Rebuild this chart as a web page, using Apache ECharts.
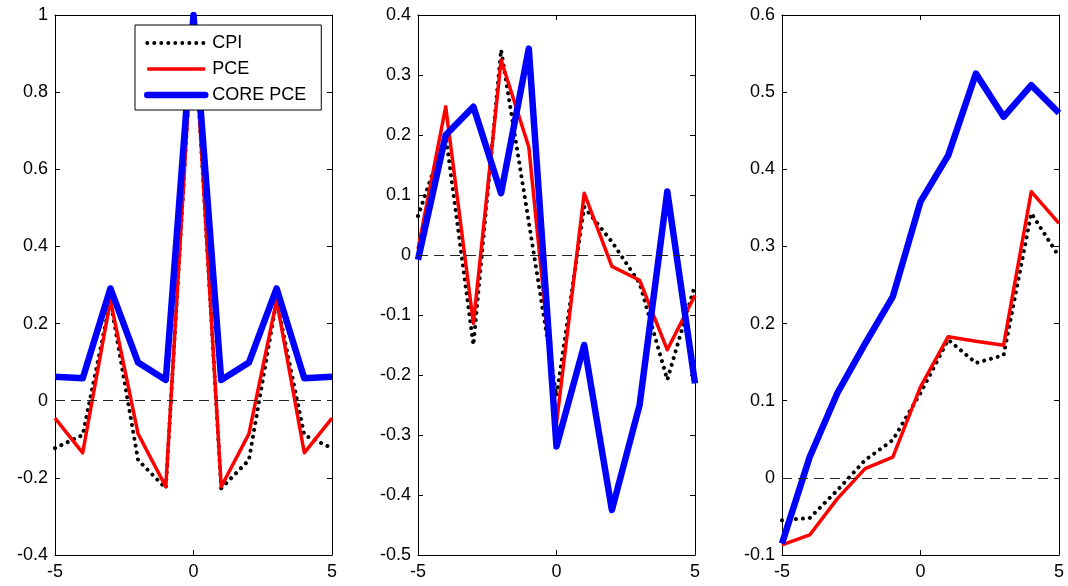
<!DOCTYPE html>
<html>
<head>
<meta charset="utf-8">
<script src="https://cdn.jsdelivr.net/npm/echarts@6/dist/echarts.min.js"></script>
<style>
  html, body { margin: 0; padding: 0; background: #fff; }
  #chart { width: 1068px; height: 586px; }
</style>
</head>
<body>
<div id="chart"></div>
<script>
// horizon (leads / lags)
const lags = [-5, -4, -3, -2, -1, 0, 1, 2, 3, 4, 5]

// panel 1
const p1Cpi  = [-0.123, -0.089, 0.26, -0.154, -0.227, 1.0, -0.227, -0.154, 0.26, -0.089, -0.123]
const p1Pce  = [-0.045, -0.135, 0.26, -0.086, -0.223, 1.0, -0.223, -0.086, 0.26, -0.135, -0.045]
const p1Core = [0.062, 0.058, 0.291, 0.099, 0.054, 1.0, 0.054, 0.099, 0.291, 0.058, 0.062]

// panel 2
const p2Cpi  = [0.065, 0.2, -0.15, 0.342, 0.055, -0.235, 0.08, 0.022, -0.047, -0.208, -0.05]
const p2Pce  = [0.01, 0.247, -0.114, 0.325, 0.18, -0.28, 0.103, -0.019, -0.042, -0.158, -0.067]
const p2Core = [-0.008, 0.2, 0.247, 0.103, 0.344, -0.319, -0.15, -0.425, -0.25, 0.106, -0.214]

// panel 3
const p3Cpi  = [-0.055, -0.052, -0.016, 0.023, 0.049, 0.11, 0.179, 0.149, 0.159, 0.343, 0.287]
const p3Pce  = [-0.087, -0.074, -0.027, 0.012, 0.027, 0.118, 0.183, 0.177, 0.172, 0.371, 0.33]
const p3Core = [-0.085, 0.027, 0.11, 0.174, 0.235, 0.358, 0.418, 0.524, 0.468, 0.509, 0.473]

const yRanges = [
  {min: -0.4, max: 1, interval: 0.2},
  {min: -0.5, max: 0.4, interval: 0.1},
  {min: -0.1, max: 0.6, interval: 0.1},
]
const panels = [
  [p1Cpi, p1Pce, p1Core],
  [p2Cpi, p2Pce, p2Core],
  [p3Cpi, p3Pce, p3Core],
]
const gridLefts = [55, 418, 782]

const font = 'Liberation Sans, Arial, sans-serif'

const pairs = (ys) => lags.map((x, i) => [x, ys[i]])

const grid = gridLefts.map(left => ({
  left: left, top: 15, width: 277, height: 540,
  show: false
}))

const xAxis = []
const yAxis = []
gridLefts.forEach((_, g) => {
  const common = {
    type: 'value',
    gridIndex: g,
    axisLine: {show: true, onZero: false, lineStyle: {color: '#000', width: 1}},
    axisTick: {show: true, inside: true, length: 5, lineStyle: {color: '#000'}},
    splitLine: {show: false}
  }
  xAxis.push(Object.assign({}, common, {
    position: 'bottom', min: -5, max: 5, interval: 5,
    axisLabel: {color: '#000', fontSize: 18, fontFamily: font, margin: 8}
  }))
  xAxis.push(Object.assign({}, common, {
    position: 'top', min: -5, max: 5, interval: 5,
    axisLabel: {show: false}
  }))
  yAxis.push(Object.assign({}, common, {
    position: 'left', min: yRanges[g].min, max: yRanges[g].max, interval: yRanges[g].interval,
    axisLabel: {color: '#000', fontSize: 18, fontFamily: font, margin: 7}
  }))
  yAxis.push(Object.assign({}, common, {
    position: 'right', min: yRanges[g].min, max: yRanges[g].max, interval: yRanges[g].interval,
    axisLabel: {show: false}
  }))
})

const series = []
panels.forEach((p, g) => {
  const axes = {xAxisIndex: g * 2, yAxisIndex: g * 2}
  series.push(Object.assign({
    name: 'CPI', type: 'line', symbol: 'none', data: pairs(p[0]),
    lineStyle: {color: '#000', width: 4, type: [0.01, 7], cap: 'round', join: 'round'},
    itemStyle: {color: '#000'},
    markLine: {
      silent: true, symbol: 'none', label: {show: false},
      lineStyle: {color: '#222', width: 1, type: [10, 6]},
      data: [{yAxis: 0}]
    }
  }, axes))
  series.push(Object.assign({
    name: 'PCE', type: 'line', symbol: 'none', data: pairs(p[1]),
    lineStyle: {color: '#ff0000', width: 3.5, join: 'round'},
    itemStyle: {color: '#ff0000'}
  }, axes))
  series.push(Object.assign({
    name: 'CORE PCE', type: 'line', symbol: 'none', data: pairs(p[2]),
    lineStyle: {color: '#0000ff', width: 6.5, join: 'round'},
    itemStyle: {color: '#0000ff'}
  }, axes))
})

const chart = echarts.init(document.getElementById('chart'), null, {renderer: 'canvas'})
chart.setOption({
  animation: false,
  grid: grid,
  xAxis: xAxis,
  yAxis: yAxis,
  legend: {
    left: 135, top: 25,
    orient: 'vertical',
    selectedMode: false,
    itemWidth: 58, itemHeight: 18, itemGap: 8,
    padding: [9, 15, 6, 9],
    backgroundColor: '#fff',
    borderColor: '#000', borderWidth: 1,
    textStyle: {color: '#000', fontSize: 18, fontFamily: font, padding: [0, 0, 0, 2]},
    data: [
      {name: 'CPI', itemStyle: {opacity: 0}, lineStyle: {color: '#000', width: 4, type: [0.01, 7], cap: 'round'}},
      {name: 'PCE', itemStyle: {opacity: 0}, lineStyle: {color: '#ff0000', width: 3.5}},
      {name: 'CORE PCE', itemStyle: {opacity: 0}, lineStyle: {color: '#0000ff', width: 6.5, cap: 'round'}}
    ]
  },
  series: series
})
</script>
</body>
</html>
